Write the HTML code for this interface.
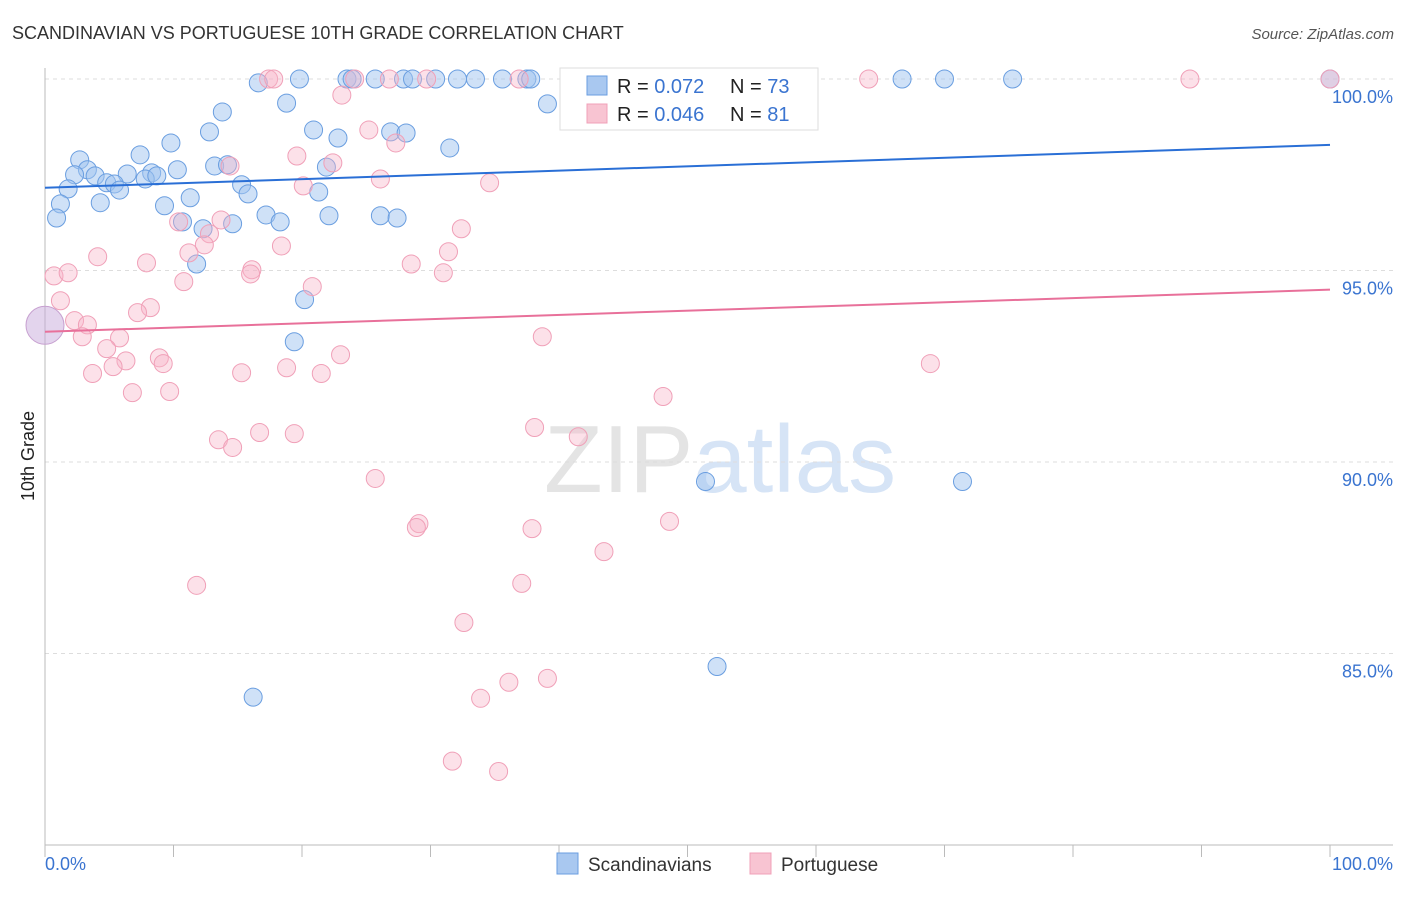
<!DOCTYPE html>
<html><head><meta charset="utf-8"><style>
body{margin:0;background:#fff;font-family:"Liberation Sans",sans-serif}
svg text{font-family:"Liberation Sans",sans-serif}
</style></head><body>
<svg width="1406" height="892" xmlns="http://www.w3.org/2000/svg">
<text x="12" y="39" font-size="18" fill="#333">SCANDINAVIAN VS PORTUGUESE 10TH GRADE CORRELATION CHART</text>
<text x="1394" y="39" font-size="15" fill="#555" text-anchor="end" font-style="italic">Source: ZipAtlas.com</text>
<text x="720" y="492" font-size="96" fill="#e4e4e4" text-anchor="middle" font-family="Liberation Serif">ZIP<tspan fill="#d6e4f6" font-family="Liberation Sans">atlas</tspan></text>
<g id="grid"></g><g id="axes"></g><g id="pts"></g><g id="trend"></g>
<text transform="translate(34,456) rotate(-90)" font-size="18" fill="#222" text-anchor="middle">10th Grade</text>
<g>
<rect x="560" y="68" width="258" height="62" fill="#fff" stroke="#ddd"/>
<rect x="587" y="76" width="20" height="19" fill="#a9c8f0" stroke="#6a9ee0"/>
<text x="617" y="93" font-size="20" fill="#222">R = <tspan fill="#3a74d0">0.072</tspan><tspan x="730">N = </tspan><tspan fill="#3a74d0">73</tspan></text>
<rect x="587" y="104" width="20" height="19" fill="#f8c4d2" stroke="#f0a0b8"/>
<text x="617" y="121" font-size="20" fill="#222">R = <tspan fill="#3a74d0">0.046</tspan><tspan x="730">N = </tspan><tspan fill="#3a74d0">81</tspan></text>
</g>
<g>
<rect x="557" y="853" width="21" height="21" fill="#a9c8f0" stroke="#6a9ee0"/>
<text x="588" y="871" font-size="19" fill="#333">Scandinavians</text>
<rect x="750" y="853" width="21" height="21" fill="#f8c4d2" stroke="#f0a0b8"/>
<text x="781" y="871" font-size="19" fill="#333">Portuguese</text>
</g>
</svg>
<script>
const blueX=[16.6,19.8,23.5,23.9,25.7,27.9,28.6,30.4,32.1,33.5,35.6,37.5,37.8,41.6,66.7,70.0,75.3,100,39.1,18.8,13.8,20.9,26.9,28.1,22.8,12.8,9.8,31.5,7.4,2.7,3.3,2.3,3.9,6.4,8.3,10.3,13.2,14.2,21.9,4.8,5.4,5.8,1.8,7.8,8.7,15.3,15.8,21.3,4.3,1.2,9.3,11.3,0.9,17.2,18.3,22.1,26.1,27.4,10.7,14.6,12.3,11.8,20.2,19.4,51.4,71.4,52.3,16.2];
const blueY=[99.9,100,100,100,100,100,100,100,100,100,100,100,100,100,100,100,100,100,99.35,99.37,99.14,98.67,98.62,98.59,98.46,98.62,98.33,98.2,98.02,97.89,97.63,97.5,97.47,97.52,97.55,97.63,97.73,97.76,97.7,97.29,97.26,97.1,97.13,97.39,97.47,97.24,97.0,97.05,96.77,96.74,96.69,96.9,96.37,96.45,96.27,96.43,96.43,96.37,96.27,96.22,96.09,95.17,94.24,93.14,89.49,89.49,84.66,83.86];
const pinkX=[17.4,17.8,24.1,26.8,29.7,36.9,64.1,89.1,100,23.1,25.2,27.3,19.6,22.4,14.4,26.1,34.6,20.1,13.7,10.4,12.8,18.4,32.4,12.4,31.4,11.2,4.1,7.9,0.7,1.8,16.1,16.0,28.5,31.0,10.8,20.8,1.2,8.2,7.2,2.3,3.3,2.9,5.8,38.7,4.8,8.9,9.2,6.3,5.3,23.0,3.7,15.3,18.8,21.5,68.9,6.8,9.7,48.1,13.5,14.6,16.7,19.4,38.1,41.5,25.7,29.1,28.9,37.9,48.6,43.5,11.8,37.1,32.6,36.1,33.9,39.1,31.7,35.3];
const pinkY=[100,100,100,100,100,100,100,100,100,99.58,98.67,98.33,97.99,97.81,97.73,97.39,97.29,97.21,96.32,96.27,95.96,95.64,96.09,95.67,95.49,95.46,95.36,95.2,94.86,94.94,95.02,94.91,95.17,94.94,94.71,94.58,94.21,94.03,93.9,93.69,93.58,93.27,93.24,93.27,92.96,92.72,92.57,92.64,92.49,92.8,92.31,92.33,92.46,92.31,92.57,91.81,91.84,91.71,90.58,90.38,90.77,90.74,90.9,90.66,89.57,88.39,88.29,88.26,88.45,87.66,86.78,86.83,85.81,84.25,83.83,84.35,82.19,81.92];
const bigPoint=[0,93.57];
const blueTrend=[97.16,98.28];
const pinkTrend=[93.40,94.50];
const yTicks=[100,95,90,85];
const yTickLabels=["100.0%","95.0%","90.0%","85.0%"];
const NS="http://www.w3.org/2000/svg";
const X0=45,X1=1330,Y0=845,Y1=79,YMIN=80,YMAX=100;
const sx=v=>X0+(v/100)*(X1-X0);
const sy=v=>Y0-(v-YMIN)/(YMAX-YMIN)*(Y0-Y1);
function mk(tag,attrs,parent){const e=document.createElementNS(NS,tag);for(const k in attrs)e.setAttribute(k,attrs[k]);parent.appendChild(e);return e;}
const grid=document.getElementById('grid'),axes=document.getElementById('axes'),pts=document.getElementById('pts'),trend=document.getElementById('trend');
yTicks.forEach((t,i)=>{
 const l=mk('line',{x1:X0,x2:1393,y1:sy(t),y2:sy(t),stroke:'#ddd','stroke-dasharray':'4,4'},grid);
 
 
 const tx=mk('text',{x:1393,y:sy(t)+24,'font-size':18,fill:'#3a74d0','text-anchor':'end'},axes);
 tx.textContent=yTickLabels[i];
 
 
});
const ya=mk('line',{x1:X0,x2:X0,y1:68,y2:Y0,stroke:'#bbb'},axes);


const xa=mk('line',{x1:X0,x2:1393,y1:Y0,y2:Y0,stroke:'#bbb'},axes);


for(let i=0;i<=10;i++){const t=mk('line',{x1:sx(i*10),x2:sx(i*10),y1:Y0,y2:Y0+12,stroke:'#bbb'},axes);
 
 }
const xl0=mk('text',{x:45,y:870,'font-size':18,fill:'#3a74d0'},axes);xl0.textContent='0.0%';


const xl1=mk('text',{x:1393,y:870,'font-size':18,fill:'#3a74d0','text-anchor':'end'},axes);xl1.textContent='100.0%';


function dots(xs,ys,fill,stroke,name){xs.forEach((x,i)=>{const c=mk('circle',{cx:sx(x),cy:sy(ys[i]),r:9,fill:fill,stroke:stroke,'stroke-width':1},pts);
 
 });}
dots(blueX,blueY,'rgba(160,195,240,0.5)','#6a9ee0','scandinavian-point');
dots(pinkX,pinkY,'rgba(248,180,200,0.4)','#f0a0b8','portuguese-point');
const bp=mk('circle',{cx:sx(bigPoint[0]),cy:sy(bigPoint[1]),r:19,fill:'rgba(200,170,220,0.5)',stroke:'#c7a0d0'},pts);


const bt=mk('line',{x1:sx(0),x2:sx(100),y1:sy(blueTrend[0]),y2:sy(blueTrend[1]),stroke:'#2a6fd6','stroke-width':2},trend);


const pt=mk('line',{x1:sx(0),x2:sx(100),y1:sy(pinkTrend[0]),y2:sy(pinkTrend[1]),stroke:'#e8709a','stroke-width':2},trend);


</script>
</body></html>
